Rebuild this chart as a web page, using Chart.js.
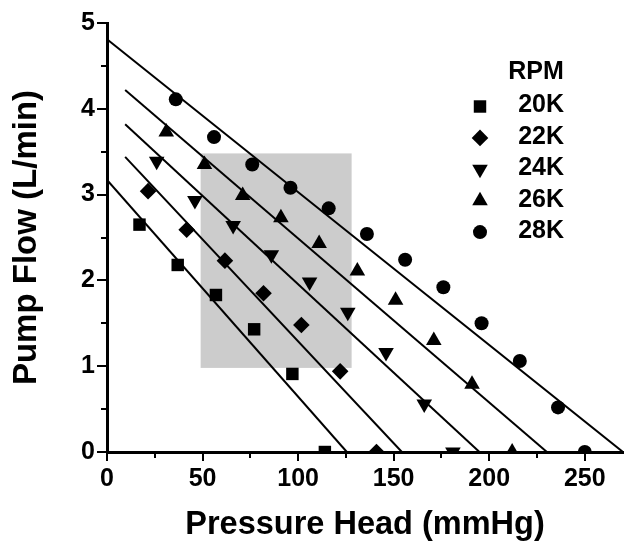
<!DOCTYPE html>
<html><head><meta charset="utf-8">
<script src="https://cdn.jsdelivr.net/npm/chart.js@4.4.1/dist/chart.umd.min.js"></script>
<style>html,body{margin:0;padding:0;background:#fff;} #wrap{width:632px;height:546px;}</style>
</head><body><div id="wrap"><canvas id="c" width="632" height="546"></canvas></div>
<script>
// ---- data ----
const rpmLabels = ['20K', '22K', '24K', '26K', '28K'];
const legendTitle = 'RPM';

const x20 = [17, 37, 57, 77, 97, 114];
const y20 = [2.65, 2.18, 1.83, 1.43, 0.91, 0];
const x22 = [21.5, 41.7, 61.7, 81.9, 101.7, 122, 141];
const y22 = [3.04, 2.59, 2.23, 1.85, 1.48, 0.94, 0];
const x24 = [26, 46, 66, 86, 106, 126, 146, 166, 181];
const y24 = [3.39, 2.93, 2.64, 2.30, 1.98, 1.63, 1.16, 0.56, 0];
const x26 = [31, 51, 71, 91, 111, 131, 151, 171, 191, 212];
const y26 = [3.73, 3.35, 2.99, 2.73, 2.43, 2.11, 1.77, 1.30, 0.79, 0];
const x28 = [36, 56, 76, 96, 116, 136, 156, 176, 196, 216, 236, 250];
const y28 = [4.11, 3.67, 3.35, 3.08, 2.84, 2.54, 2.24, 1.92, 1.50, 1.06, 0.52, 0];

// fitted lines (start, end)
const fit20x = [0, 125.5], fit20y = [3.17, 0];
const fit22x = [9.5, 154.3], fit22y = [3.44, 0];
const fit24x = [9.5, 194.9], fit24y = [3.82, 0];
const fit26x = [9.5, 230.2], fit26y = [4.22, 0];
const fit28x = [0, 270], fit28y = [4.81, 0];

// shaded region
const shadeX = [49, 128];
const shadeY = [0.98, 3.48];

// ticks
const xTickValues = [0, 25, 50, 75, 100, 125, 150, 175, 200, 225, 250];
const xTickLabels = ['0', '', '50', '', '100', '', '150', '', '200', '', '250'];
const yTickValues = [0, 0.5, 1, 1.5, 2, 2.5, 3, 3.5, 4, 4.5, 5];
const yTickLabels = ['0', '', '1', '', '2', '', '3', '', '4', '', '5'];

const xTitle = 'Pressure Head (mmHg)';
const yTitle = 'Pump Flow (L/min)';

// ---- build ----
const FONT = '"Liberation Sans", Arial, Helvetica, sans-serif';
const zip = (xs, ys) => xs.map((v, i) => ({x: v, y: ys[i]}));

const markerStyles = [
  {pointStyle: 'rect', pointRadius: 8.8, pointRotation: 0},
  {pointStyle: 'rectRot', pointRadius: 8.3, pointRotation: 0},
  {pointStyle: 'triangle', pointRadius: 9, pointRotation: 180},
  {pointStyle: 'triangle', pointRadius: 9, pointRotation: 0},
  {pointStyle: 'circle', pointRadius: 7, pointRotation: 0}
];
const seriesX = [x20, x22, x24, x26, x28];
const seriesY = [y20, y22, y24, y26, y28];
const fitX = [fit20x, fit22x, fit24x, fit26x, fit28x];
const fitY = [fit20y, fit22y, fit24y, fit26y, fit28y];

const pointSets = rpmLabels.map((lab, i) => ({
  label: lab,
  data: zip(seriesX[i], seriesY[i]),
  showLine: false,
  pointStyle: markerStyles[i].pointStyle,
  pointRadius: markerStyles[i].pointRadius,
  pointHoverRadius: markerStyles[i].pointRadius,
  pointRotation: markerStyles[i].pointRotation,
  backgroundColor: '#000',
  borderColor: '#000',
  pointBorderWidth: 0,
  clip: 0,
  order: 1
}));
const lineSets = rpmLabels.map((lab, i) => ({
  label: 'fit ' + lab,
  data: zip(fitX[i], fitY[i]),
  showLine: true,
  pointRadius: 0,
  borderColor: '#000',
  borderWidth: 2,
  clip: 0,
  order: 2
}));

const shadePlugin = {
  id: 'shade',
  beforeDatasetsDraw(chart) {
    const {ctx, scales: {x, y}} = chart;
    const x0 = x.getPixelForValue(shadeX[0]), x1 = x.getPixelForValue(shadeX[1]);
    const y0 = y.getPixelForValue(shadeY[0]), y1 = y.getPixelForValue(shadeY[1]);
    ctx.save();
    ctx.fillStyle = '#cccccc';
    ctx.fillRect(x0, y1, x1 - x0, y0 - y1);
    ctx.restore();
  }
};

// minor (unlabelled) tick marks, shorter than major ones
const minorTickPlugin = {
  id: 'minorTicks',
  afterDraw(chart) {
    const {ctx, scales: {x, y}, chartArea} = chart;
    ctx.save();
    ctx.strokeStyle = '#000';
    ctx.lineWidth = 2;
    ctx.beginPath();
    xTickValues.forEach((v, i) => {
      if (xTickLabels[i] !== '') return;
      const px = Math.round(x.getPixelForValue(v));
      ctx.moveTo(px, chartArea.bottom);
      ctx.lineTo(px, chartArea.bottom + 6);
    });
    yTickValues.forEach((v, i) => {
      if (yTickLabels[i] !== '') return;
      const py = Math.round(y.getPixelForValue(v));
      ctx.moveTo(chartArea.left, py);
      ctx.lineTo(chartArea.left - 6, py);
    });
    ctx.stroke();
    ctx.restore();
  }
};

const legendPlugin = {
  id: 'rpmLegend',
  afterDraw(chart) {
    const ctx = chart.ctx;
    ctx.save();
    ctx.fillStyle = '#000';
    ctx.strokeStyle = '#000';
    ctx.font = 'bold 25px ' + FONT;
    ctx.textAlign = 'center';
    ctx.textBaseline = 'middle';
    ctx.fillText(legendTitle, 536, 72);
    ctx.textAlign = 'right';
    pointSets.forEach((ds, i) => {
      const ty = 105.5 + 31.4 * i;
      ctx.fillStyle = '#000';
      Chart.helpers.drawPoint(ctx, {
        pointStyle: ds.pointStyle, radius: ds.pointRadius,
        rotation: ds.pointRotation, borderWidth: 0
      }, 480, ty + 1);
      ctx.fillText(ds.label, 564, ty);
    });
    ctx.restore();
  }
};

const majorColor = labels => c => (labels[c.index] !== undefined && labels[c.index] !== '') ? '#000' : 'rgba(0,0,0,0)';

new Chart(document.getElementById('c'), {
  type: 'scatter',
  data: {datasets: [...lineSets, ...pointSets]},
  options: {
    responsive: false,
    animation: false,
    devicePixelRatio: 1,
    layout: {padding: {top: 23, right: 3, left: 0, bottom: 0}},
    plugins: {legend: {display: false}, tooltip: {enabled: false}},
    scales: {
      x: {
        type: 'linear', min: 0, max: 270, z: 1,
        afterBuildTicks: s => { s.ticks = xTickValues.map(v => ({value: v})); },
        afterFit: s => { s.height = 94; },
        ticks: {
          autoSkip: false, maxRotation: 0, padding: 3, color: '#000',
          font: {family: FONT, size: 25, weight: 'bold'},
          callback: v => { const k = xTickValues.indexOf(v); return k >= 0 ? xTickLabels[k] : ''; }
        },
        grid: {display: true, drawOnChartArea: false, drawTicks: true, tickLength: 9,
          color: '#000', tickColor: majorColor(xTickLabels), lineWidth: 2},
        border: {display: true, color: '#000', width: 3},
        title: {display: true, text: xTitle, color: '#000', padding: {top: 0, bottom: 1},
          font: {family: FONT, size: 32.5, weight: 'bold'}}
      },
      y: {
        type: 'linear', min: 0, max: 5, z: 1,
        afterBuildTicks: s => { s.ticks = yTickValues.map(v => ({value: v})); },
        afterFit: s => { s.width = 107; },
        ticks: {
          autoSkip: false, padding: 2, color: '#000',
          font: {family: FONT, size: 25, weight: 'bold'},
          callback: v => { const k = yTickValues.indexOf(v); return k >= 0 ? yTickLabels[k] : ''; }
        },
        grid: {display: true, drawOnChartArea: false, drawTicks: true, tickLength: 10,
          color: '#000', tickColor: majorColor(yTickLabels), lineWidth: 2},
        border: {display: true, color: '#000', width: 3},
        title: {display: true, text: yTitle, color: '#000', padding: {top: 7, bottom: 0},
          font: {family: FONT, size: 33, weight: 'bold'}}
      }
    }
  },
  plugins: [shadePlugin, minorTickPlugin, legendPlugin]
});
</script></body></html>
